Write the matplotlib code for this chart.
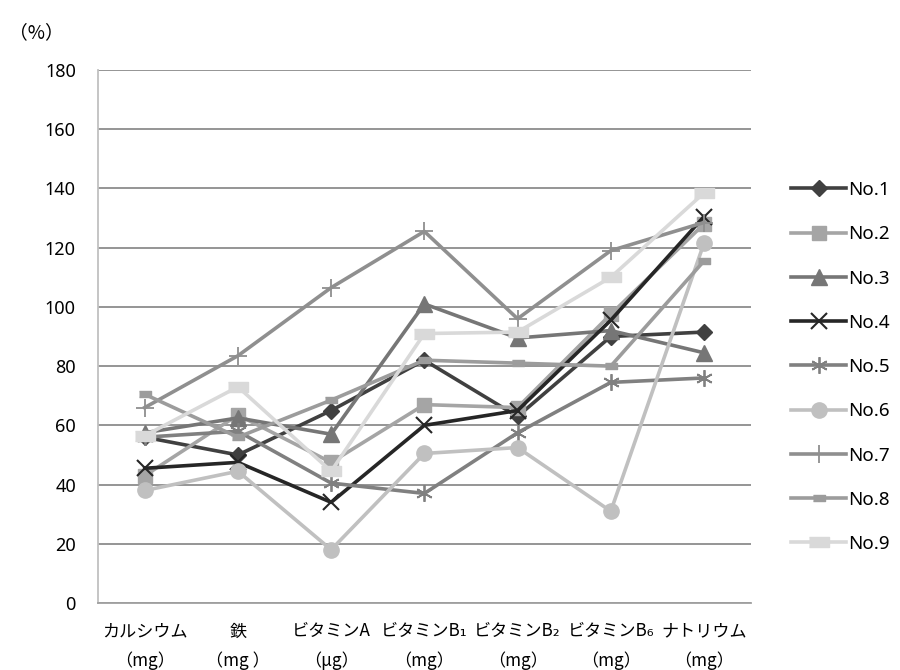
import matplotlib
matplotlib.use("Agg")
import matplotlib.pyplot as plt
import numpy as np

plt.rcParams["font.family"] = ["Noto Sans CJK JP", "DejaVu Sans"]

# ── Data ──────────────────────────────────────────────────────────────────────
categories = ["カルシウム\n（mg）", "鉄\n（mg ）", "ビタミンA\n（μg）", "ビタミンB₁\n（mg）",
              "ビタミンB₂\n（mg）", "ビタミンB₆\n（mg）", "ナトリウム\n（mg）"]

no1 = [56, 50, 65, 82, 63, 90, 91.5]
no2 = [43, 63.5, 47.5, 67, 66, 97.5, 128]
no3 = [57.5, 62.5, 57, 101, 89.5, 92, 84.5]
no4 = [45.5, 47.5, 34, 60, 65, 95.5, 130.5]
no5 = [56, 58, 40.5, 37, 57.5, 74.5, 76]
no6 = [38, 44.5, 18, 50.5, 52.5, 31, 121.5]
no7 = [66, 83.5, 106.5, 125.5, 96, 119, 128.5]
no8 = [70.5, 56, 68.5, 82, 81, 80, 115.5]
no9 = [56.5, 73, 44.5, 91, 91.5, 110, 138.5]

series_names = ["No.1", "No.2", "No.3", "No.4", "No.5", "No.6", "No.7", "No.8", "No.9"]

# ── Style ─────────────────────────────────────────────────────────────────────
flat_rect = [(-1, -0.45), (1, -0.45), (1, 0.45), (-1, 0.45)]
styles = [
    dict(color="#404040", marker="D", ms=8),
    dict(color="#a5a5a5", marker="s", ms=10),
    dict(color="#767676", marker="^", ms=11),
    dict(color="#262626", marker="x", ms=11, mew=1.5),
    dict(color="#808080", marker=(6, 2, 0), ms=12, mew=1.3),
    dict(color="#c0c0c0", marker="o", ms=11),
    dict(color="#8f8f8f", marker="+", ms=13, mew=1.3),
    dict(color="#9c9c9c", marker=flat_rect, ms=9),
    dict(color="#d9d9d9", marker=flat_rect, ms=15),
]
all_series = [no1, no2, no3, no4, no5, no6, no7, no8, no9]

# ── Plot ──────────────────────────────────────────────────────────────────────
fig = plt.figure(figsize=(9, 6.7), dpi=100)
ax = fig.add_axes([0.109, 0.1, 0.725, 0.7955])

x = np.arange(len(categories))
for name, vals, st in zip(series_names, all_series, styles):
    ax.plot(x, vals, linewidth=2.6, label=name, **st)

ax.set_xlim(-0.5, len(categories) - 0.5)
ax.set_ylim(0, 180)
ax.set_yticks(np.arange(0, 181, 20))
ax.yaxis.grid(True, color="#8c8c8c", linewidth=1.3)
ax.set_axisbelow(True)
ax.set_xticks(x)
ax.set_xticklabels(categories, fontsize=12.3, linespacing=1.75)
for lbl in ax.get_yticklabels():
    lbl.set_fontfamily(["Noto Sans", "DejaVu Sans"])
ax.tick_params(axis="both", length=0)
ax.tick_params(axis="y", labelsize=13, pad=16)
ax.tick_params(axis="x", pad=14)

for side in ["top", "right"]:
    ax.spines[side].set_visible(False)
ax.spines["left"].set_color("#c0c0c0")
ax.spines["left"].set_linewidth(1.3)
ax.spines["bottom"].set_color("#a0a0a0")
ax.spines["bottom"].set_linewidth(1.3)

fig.text(0.01, 0.951, "（%）", fontsize=13.5, va="center", ha="left")

ax.legend(loc="upper left", bbox_to_anchor=(0.871, 0.741), bbox_transform=fig.transFigure,
          frameon=False, prop={"family": ["Noto Sans", "DejaVu Sans"], "size": 13.5},
          handlelength=2.9, handletextpad=0.15, labelspacing=1.4, borderaxespad=0)

plt.savefig("out.png", dpi=100)
plt.close()
